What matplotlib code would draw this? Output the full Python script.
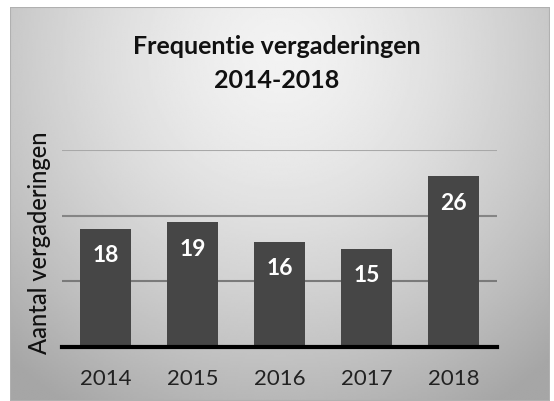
import numpy as np
import matplotlib.pyplot as plt
from matplotlib.patches import Rectangle

years = ["2014", "2015", "2016", "2017", "2018"]
meetings = [18, 19, 16, 15, 26]
gridlines = [10, 20, 30]
grid_colors = ['#7a7a7a', '#858585', '#a8a8a8']

plt.rcParams['font.family'] = ['Lato', 'DejaVu Sans']

fig = plt.figure(figsize=(5.54, 4.01), dpi=100)
fig.patch.set_facecolor('white')

# gradient background behind the chart
bg = fig.add_axes([10 / 554, 0, 540 / 554, 1 - 7 / 401])
bg.set_axis_off()
yy, xx = np.mgrid[0:1:200j, 0:1:300j]
dist = np.sqrt(((xx - 0.5) / 0.75) ** 2 + ((yy - 0.12) / 1.05) ** 2)
shade = 0.95 - 0.30 * np.clip(dist, 0, 1) ** 1.5
bg.imshow(shade, cmap='gray', vmin=0, vmax=1, aspect='auto', extent=[0, 1, 1, 0])
bg.add_patch(Rectangle((0, 0), 1, 1, transform=bg.transAxes, fill=False,
                       edgecolor='#b0b0b0', linewidth=1.5))

ax = fig.add_axes([62 / 554, 1 - 347 / 401, 435 / 554, 197 / 401])
ax.patch.set_alpha(0)
x = np.arange(len(years))
ax.set_xlim(-0.5, len(years) - 0.5)
ax.set_ylim(0, 30)
for g, c in zip(gridlines, grid_colors):
    ax.axhline(g, color=c, linewidth=1.5, zorder=1)
bars = ax.bar(x, meetings, width=0.59, color='#464646', zorder=2)
for xi, v in zip(x, meetings):
    ax.text(xi, v - 4.1, str(v), ha='center', va='center', color='white',
            fontsize=16.5, fontweight='bold', zorder=3)
ax.axhline(0, color='black', linewidth=3, zorder=4, clip_on=False)
for s in ax.spines.values():
    s.set_visible(False)
ax.set_yticks([])
ax.set_xticks(x)
ax.set_xticklabels(years, fontsize=16, color='#222222')
ax.tick_params(axis='x', length=0, pad=16)
ax.set_ylabel("Aantal vergaderingen", fontsize=17, color='#111111',
              fontweight='medium')
ax.yaxis.set_label_coords(-0.025, 0.53)

fig.text(0.5, 1 - 47 / 401, "Frequentie vergaderingen", ha='center', va='center',
         fontsize=18, fontweight='bold', color='#111111')
fig.text(0.5, 1 - 80 / 401, "2014-2018", ha='center', va='center',
         fontsize=18, fontweight='bold', color='#111111')

fig.savefig("out.png", dpi=100)
